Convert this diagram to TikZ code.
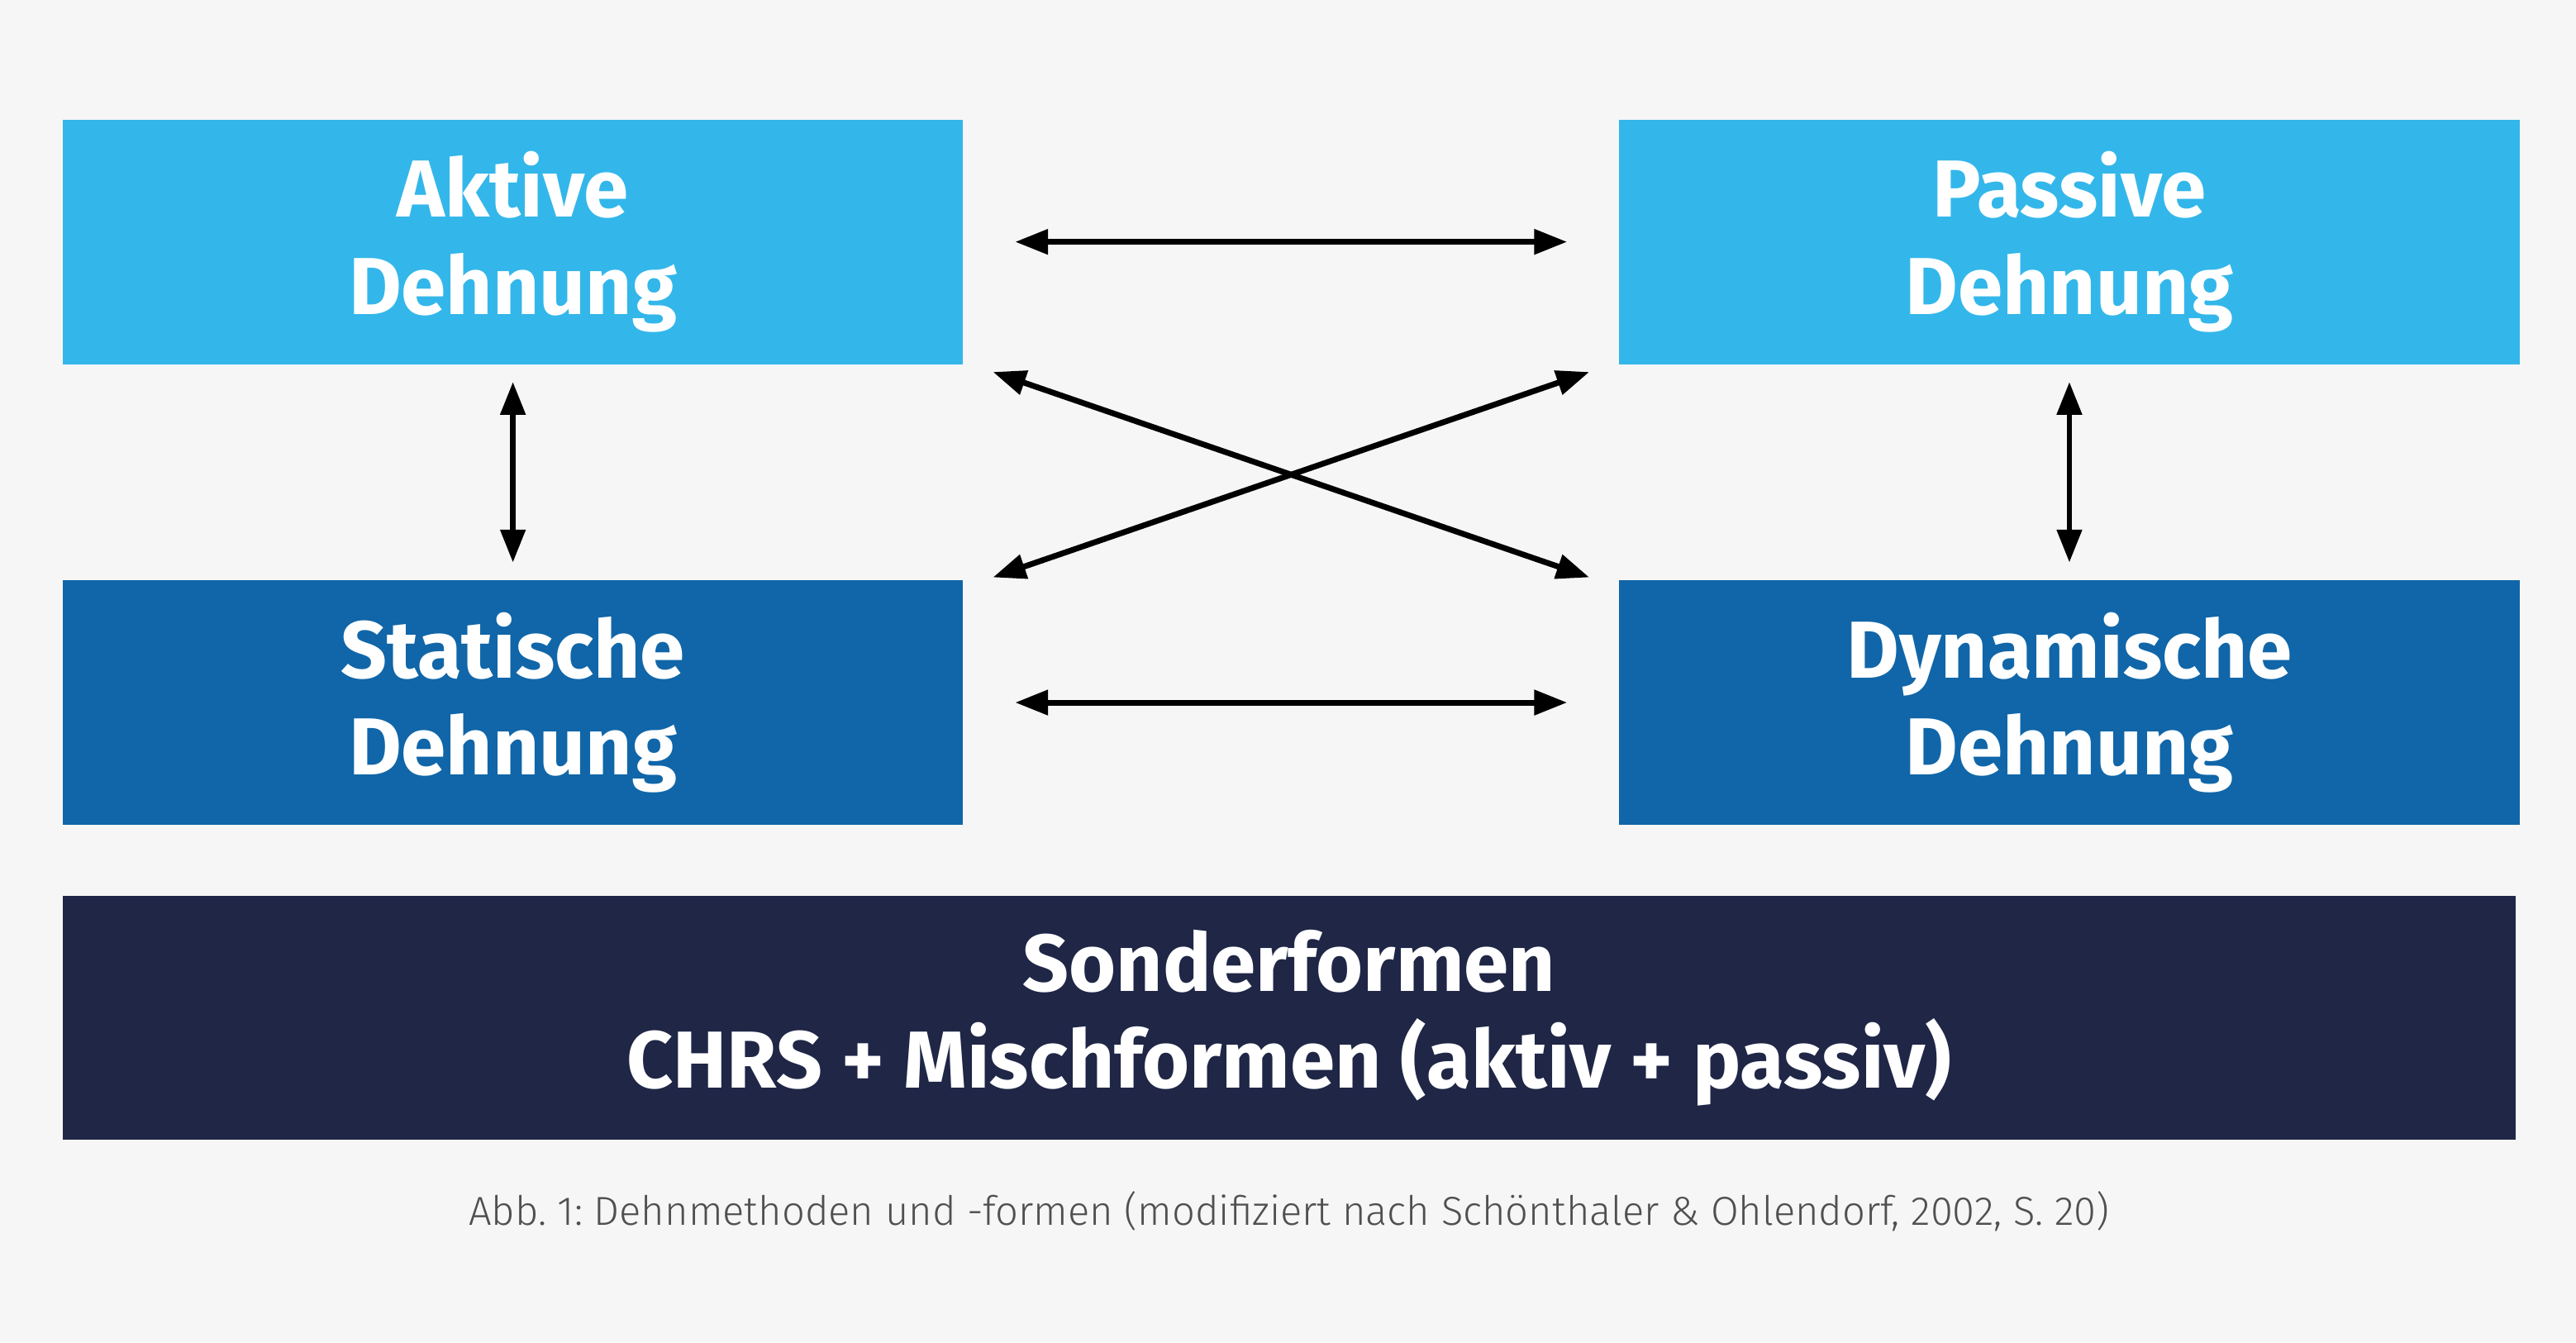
\documentclass[tikz,border=0pt]{standalone}
\usepackage{fontspec}
\setmainfont{Fira Sans}
\newfontfamily\captionfont{Fira Sans Light}
\usetikzlibrary{positioning}
\usetikzlibrary{arrows.meta}
\definecolor{bgGray}{HTML}{F6F6F6}
\definecolor{lightBlue}{HTML}{33B7EA}
\definecolor{darkBlue}{HTML}{1066A8}
\definecolor{navyBlue}{HTML}{1F2646}
\definecolor{captionGray}{HTML}{505050}

\begin{document}
\begin{tikzpicture}[>={Triangle[length=5.7pt,width=4.2pt]}, node distance = 1.3cm]
    % Set primary nodes
    \tikzset{
        methodNode/.style={
                rectangle,
                minimum height=1.49cm,
                minimum width=5.48cm,
                inner sep=0pt,
                align=center,
                text=white,
                font=\fontsize{14}{16.8}\selectfont\bfseries
            }
    }
    \tikzset{
        activeNode/.style={
                methodNode,
                fill=lightBlue
            }
    }
    \tikzset{
        staticNode/.style={
                methodNode,
                fill=darkBlue
            }
    }
    \tikzset{
        sonderNode/.style={
                methodNode,
                fill=navyBlue,
                minimum width=14.93cm,
                minimum height=1.48cm
            }
    }
    \tikzset{
        captionNode/.style={
                text=captionGray,
                inner sep=0pt,
                font=\captionfont\fontsize{7}{8}\selectfont\frenchspacing
            }
    }
    % Configure arrows
    \tikzset{
        arrow/.style={
                line width=1pt,
                <->
            }
    }
    % Background
    \fill[bgGray] (0,0) rectangle (15.68,-8.17);
    \useasboundingbox (0,0) rectangle (15.68,-8.17);
    % Placing nodes
    \node[activeNode, anchor=north west](aktive) at (0.375,-0.72){Aktive\\Dehnung};
    \node[activeNode, right = 3.98cm of aktive](passive){Passive\\Dehnung};
    \node[staticNode, below = 1.3cm of aktive](statische){Statische\\Dehnung};
    \node[staticNode, below = 1.3cm of passive](dynamische){Dynamische\\Dehnung};
    \node[sonderNode, below right = 0.42cm and 0cm of statische.south west](sonder){Sonderformen\\CHRS + Mischformen (aktiv + passiv)};
    \node[captionNode](caption) at ([yshift=-4.3mm]sonder.south){Abb. 1: Dehnmethoden und -formen (modifiziert nach Schönthaler \& Ohlendorf, 2002, S. 20)};
    % Draw arrows
    \draw[arrow, shorten <=3.1mm, shorten >=3.1mm](aktive) -- (passive);
    \draw[arrow, shorten <=3.1mm, shorten >=3.1mm](statische) -- (dynamische);
    \draw[arrow, shorten <=1mm, shorten >=1mm](aktive) -- (statische);
    \draw[arrow, shorten <=1mm, shorten >=1mm](passive) -- (dynamische);
    \draw[arrow]([xshift=1.75mm, yshift=-0.4mm]aktive.south east) -- ([xshift=-1.75mm, yshift=0.1mm]dynamische.north west);
    \draw[arrow]([xshift=-1.75mm, yshift=-0.4mm]passive.south west) -- ([xshift=1.75mm, yshift=0.1mm]statische.north east);
\end{tikzpicture}
\end{document}
